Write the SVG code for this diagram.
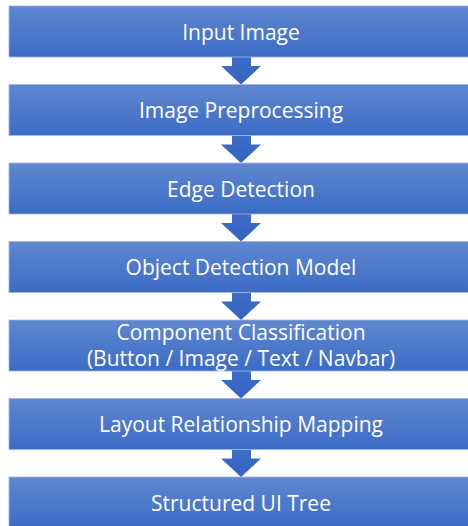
<svg xmlns="http://www.w3.org/2000/svg" width="468" height="526" viewBox="0 0 468 526">
<defs>
<linearGradient id="g" x1="0" y1="0" x2="0" y2="1">
<stop offset="0" stop-color="#6088d0"/>
<stop offset="1" stop-color="#3b6bc5"/>
</linearGradient>
<linearGradient id="ga" x1="0" y1="0" x2="0" y2="1">
<stop offset="0" stop-color="#3d6dc6"/>
<stop offset="1" stop-color="#3464c0"/>
</linearGradient>
<style>
.box{fill:url(#g);stroke:#9cb4e2;stroke-width:0.8}
.t{font-family:"Open Sans","Liberation Sans",sans-serif;font-size:21px;fill:#ffffff;text-anchor:middle}
.arr{fill:url(#ga)}
</style>
</defs>
<rect width="468" height="526" fill="#ffffff"/>
<g id="connectors">
<polygon class="arr" points="232,57 251,57 251,66 261,66 241,84.5 221,66 232,66"/>
<polygon class="arr" points="232,135.5 251,135.5 251,144.5 261,144.5 241,163 221,144.5 232,144.5"/>
<polygon class="arr" points="232,214 251,214 251,223 261,223 241,241.5 221,223 232,223"/>
<polygon class="arr" points="232,292.5 251,292.5 251,301.5 261,301.5 241,320 221,301.5 232,301.5"/>
<polygon class="arr" points="232,371 251,371 251,380 261,380 241,398.5 221,380 232,380"/>
<polygon class="arr" points="232,449.5 251,449.5 251,458.5 261,458.5 241,477 221,458.5 232,458.5"/>
</g>
<g id="n1"><rect class="box" x="9" y="6" width="470" height="51"/><text class="t" x="241" y="39.5">Input Image</text></g>
<g id="n2"><rect class="box" x="9" y="84.5" width="470" height="51"/><text class="t" x="241" y="118">Image Preprocessing</text></g>
<g id="n3"><rect class="box" x="9" y="163" width="470" height="51"/><text class="t" x="241" y="196.5">Edge Detection</text></g>
<g id="n4"><rect class="box" x="9" y="241.5" width="470" height="51"/><text class="t" x="241" y="275">Object Detection Model</text></g>
<g id="n5"><rect class="box" x="9" y="320" width="470" height="51"/><text class="t" x="241" y="340">Component Classification</text><text class="t" x="241" y="365.5">(Button / Image / Text / Navbar)</text></g>
<g id="n6"><rect class="box" x="9" y="398.5" width="470" height="51"/><text class="t" x="241" y="432">Layout Relationship Mapping</text></g>
<g id="n7"><rect class="box" x="9" y="477" width="470" height="51"/><text class="t" x="241" y="510.5">Structured UI Tree</text></g>
</svg>
